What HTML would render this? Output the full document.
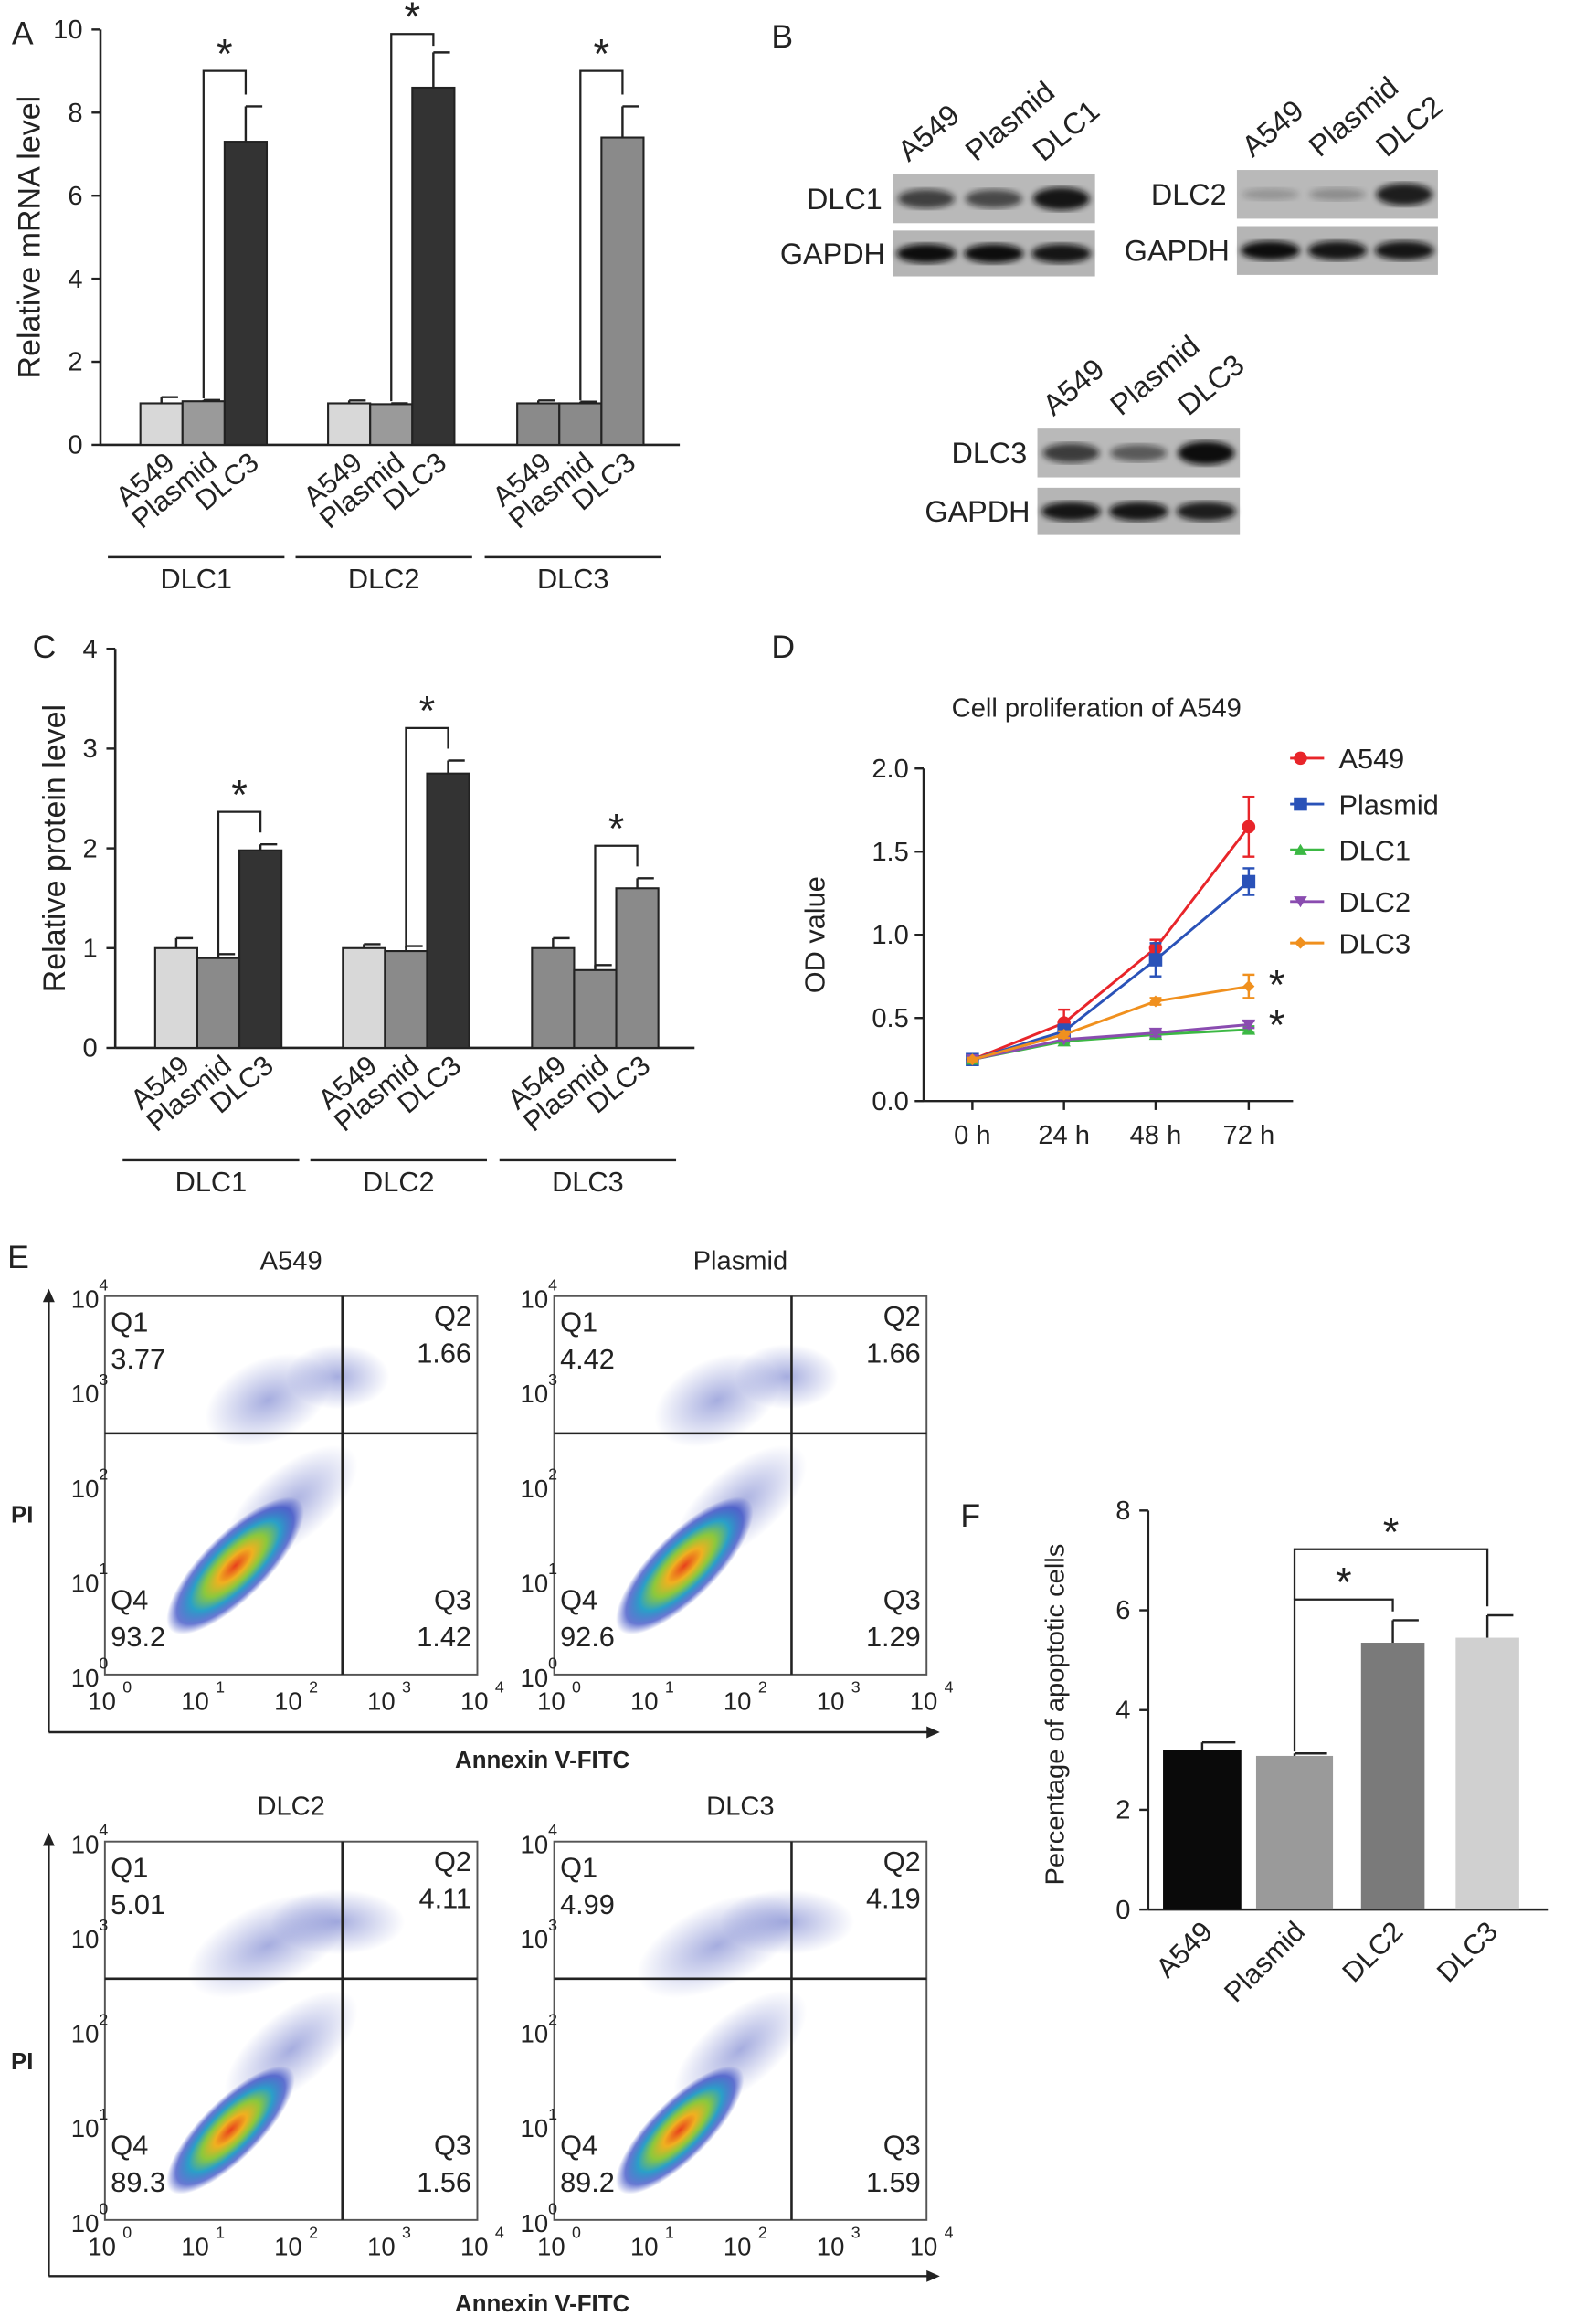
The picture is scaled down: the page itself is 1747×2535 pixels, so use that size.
<!DOCTYPE html>
<html><head><meta charset="utf-8"><style>
html,body{margin:0;padding:0;background:#fff;}
svg{display:block;font-family:"Liberation Sans",Arial,sans-serif;}
</style></head><body>
<svg id="fig" width="1747" height="2535" viewBox="0 0 1080 1567" preserveAspectRatio="none" xmlns="http://www.w3.org/2000/svg">
<defs>
<filter id="blur2"><feGaussianBlur stdDeviation="2.2"/></filter>
<radialGradient id="dens" cx="50%" cy="50%" r="50%">
<stop offset="0" stop-color="#e8401c"/><stop offset="0.25" stop-color="#f0b020"/><stop offset="0.45" stop-color="#8cc83c"/><stop offset="0.65" stop-color="#2aa0c8"/><stop offset="0.85" stop-color="#2840c0" stop-opacity="0.7"/><stop offset="1" stop-color="#3040c0" stop-opacity="0"/>
</radialGradient>
<radialGradient id="sparse" cx="50%" cy="50%" r="50%">
<stop offset="0" stop-color="#3848b8" stop-opacity="0.45"/><stop offset="1" stop-color="#3848b8" stop-opacity="0"/>
</radialGradient>
</defs>
<g id="root"></g>
</svg>
<script>
// ---------- data ----------
const barGroups = ['DLC1','DLC2','DLC3'];
const barCats = ['A549','Plasmid','DLC3'];
const mrnaVals = [[1.0,1.05,7.3],[1.0,0.98,8.6],[1.0,1.0,7.4]];
const mrnaErr = [[0.15,0.03,0.85],[0.07,0.02,0.85],[0.07,0.04,0.75]];
const mrnaTicks = [0,2,4,6,8,10];
const protVals = [[1.0,0.9,1.98],[1.0,0.97,2.75],[1.0,0.78,1.6]];
const protErr = [[0.1,0.04,0.06],[0.04,0.05,0.13],[0.1,0.05,0.1]];
const protTicks = [0,1,2,3,4];
const timeLabels = ['0 h','24 h','48 h','72 h'];
const odSeriesNames = ['A549','Plasmid','DLC1','DLC2','DLC3'];
const odA549 = [0.25,0.47,0.92,1.65];
const odPlasmid = [0.25,0.42,0.85,1.32];
const odDLC1 = [0.25,0.36,0.40,0.43];
const odDLC2 = [0.25,0.37,0.41,0.46];
const odDLC3 = [0.25,0.40,0.60,0.69];
const odErrA549 = [0.02,0.08,0.05,0.18];
const odErrPlasmid = [0.02,0.04,0.1,0.08];
const odErrDLC1 = [0.01,0.01,0.02,0.02];
const odErrDLC2 = [0.01,0.01,0.02,0.02];
const odErrDLC3 = [0.01,0.02,0.02,0.07];
const odTicks = [0,0.5,1.0,1.5,2.0];
const flowNames = ['A549','Plasmid','DLC2','DLC3'];
const flowQ1 = ['3.77','4.42','5.01','4.99'];
const flowQ2 = ['1.66','1.66','4.11','4.19'];
const flowQ3 = ['1.42','1.29','1.56','1.59'];
const flowQ4 = ['93.2','92.6','89.3','89.2'];
const apopCats = ['A549','Plasmid','DLC2','DLC3'];
const apopVals = [3.2,3.08,5.35,5.45];
const apopErr = [0.15,0.05,0.45,0.45];
const apopTicks = [0,2,4,6,8];

// ---------- helpers ----------
const NS='http://www.w3.org/2000/svg';
const root=document.getElementById('root');
function mk(tag,attrs,parent,text){const e=document.createElementNS(NS,tag);for(const k in attrs)e.setAttribute(k,attrs[k]);if(text!==undefined)e.textContent=text;(parent||root).appendChild(e);return e;}
function line(x1,y1,x2,y2,c,w,p){return mk('line',{x1,y1,x2,y2,stroke:c||'#222','stroke-width':w||1.5},p);}
function txt(x,y,s,size,anchor,p,extra){const a={x,y,'font-size':size,'text-anchor':anchor||'middle',fill:'#222'};if(extra)Object.assign(a,extra);return mk('text',a,p,s);}

// ---------- panel letters ----------
[['A',8,30],['B',522,32],['C',22,445],['D',522,445],['E',5,858],['F',650,1033]].forEach(l=>{
  const t=txt(l[1],l[2],l[0],22,'start');
  
  
});

// ---------- grouped bar chart ----------
function barChart(name,opt,vals,errs,ticks){
  const g=mk('g',{});
  
  
  const y=v=>opt.y0-(v-ticks[0])/(ticks[ticks.length-1]-ticks[0])*(opt.y0-opt.y1);
  line(opt.ax,opt.y1,opt.ax,opt.y0,'#222',1.6,g);
  line(opt.ax,opt.y0,opt.xend,opt.y0,'#222',1.6,g);
  ticks.forEach(t=>{line(opt.ax-6,y(t),opt.ax,y(t),'#222',1.5,g);
    const tl=txt(opt.ax-12,y(t)+6,String(t),18,'end',g);
    
    });
  const yt=txt(0,0,opt.ytitle,21,'middle',g,{transform:`translate(${opt.ytx},${(opt.y0+opt.y1)/2}) rotate(-90)`});
  
  
  barGroups.forEach((gn,gi)=>{
    const gx=opt.gx[gi];
    vals[gi].forEach((v,ci)=>{
      const x=gx+ci*opt.bw;
      const b=mk('rect',{x,y:y(v),width:opt.bw,height:opt.y0-y(v),fill:opt.colors[gi][ci],stroke:'#222','stroke-width':1.3},g);
      
      
      const ey=y(v+errs[gi][ci]);
      line(x+opt.bw/2,y(v),x+opt.bw/2,ey,'#222',1.5,g);
      line(x+opt.bw/2,ey,x+opt.bw-3,ey,'#222',1.5,g);
      const lab=txt(0,0,barCats[ci],19,'end',g,{transform:`translate(${x+opt.bw/2+10},${opt.y0+14}) rotate(-40)`});
      
      
    });
    const xp=gx+1.5*opt.bw, xd=gx+2.5*opt.bw;
    const errTop=y(vals[gi][2]+errs[gi][2]);
    const top=Math.max(errTop-opt.brk, opt.minTop);
    mk('polyline',{points:`${xp},${y(vals[gi][1])-2} ${xp},${top} ${xd},${top} ${xd},${Math.max(errTop-8,top+8)}`,fill:'none',stroke:'#222','stroke-width':1.4},g);
    const st=txt((xp+xd)/2,top-2,'*',28,'middle',g);
    
    
    line(gx-22,opt.gline,gx+3*opt.bw+12,opt.gline,'#222',1.5,g);
    const gl=txt(gx+1.5*opt.bw-5,opt.gline+21,gn,19,'middle',g);
    
    
  });
}
barChart('mrna-bar-chart',{ax:68,y0:301,y1:20,xend:460,gx:[95,222,350],bw:28.5,ytitle:'Relative mRNA level',ytx:27,gline:377,brk:24,minTop:23,
  colors:[['#d8d8d8','#9a9a9a','#333'],['#d8d8d8','#9a9a9a','#333'],['#8a8a8a','#8a8a8a','#8a8a8a']]},mrnaVals,mrnaErr,mrnaTicks);
barChart('protein-bar-chart',{ax:78,y0:709,y1:439,xend:470,gx:[105,232,360],bw:28.5,ytitle:'Relative protein level',ytx:44,gline:785,brk:22,minTop:440,
  colors:[['#d8d8d8','#8a8a8a','#333'],['#d8d8d8','#8a8a8a','#333'],['#8a8a8a','#8a8a8a','#8a8a8a']]},protVals,protErr,protTicks);

// ---------- western blots ----------
const blots=[
  {name:'dlc1',x:604,w:137,lab:'DLC1',top:118,th:33,gtop:156,gh:31,lanes:[['A549',0.7],['Plasmid',0.65],['DLC1',0.95]],g:[1,1,0.95]},
  {name:'dlc2',x:837,w:136,lab:'DLC2',top:115,th:33,gtop:153,gh:33,lanes:[['A549',0.2],['Plasmid',0.25],['DLC2',0.9]],g:[1,0.95,0.95]},
  {name:'dlc3',x:702,w:137,lab:'DLC3',top:290,th:33,gtop:330,gh:32,lanes:[['A549',0.72],['Plasmid',0.55],['DLC3',1]],g:[0.95,0.95,0.9]}];
blots.forEach(b=>{
  const g=mk('g',{});
  
  
  mk('rect',{x:b.x,y:b.top,width:b.w,height:b.th,fill:'#b9b9b9'},g);
  mk('rect',{x:b.x,y:b.gtop,width:b.w,height:b.gh,fill:'#b5b5b5'},g);
  const lw=b.w/3;
  b.lanes.forEach((ln,i)=>{
    const cx=b.x+lw*(i+0.5);
    mk('ellipse',{cx,cy:b.top+b.th/2,rx:lw*0.42,ry:3+5*ln[1],fill:'#111',opacity:ln[1],filter:'url(#blur2)'},g);
    mk('ellipse',{cx,cy:b.gtop+b.gh/2,rx:lw*0.44,ry:6.5,fill:'#111',opacity:b.g[i],filter:'url(#blur2)'},g);
    const t=txt(0,0,ln[0],20,'start',g,{transform:`translate(${cx-12},${b.top-8}) rotate(-40)`});
    
    
  });
  const l1=txt(b.x-7,b.top+b.th/2+7,b.lab,20,'end',g);
  
  
  const l2=txt(b.x-5,b.gtop+b.gh/2+7,'GAPDH',20,'end',g);
  
  
});

// ---------- line chart D ----------
(function(){
  const g=mk('g',{});
  
  
  const ax=625,y0=745,y1=520,xend=875;
  const X=[658,720,782,845];
  const y=v=>y0-v/2*(y0-y1);
  line(ax,y1,ax,y0,'#222',1.5,g);line(ax,y0,xend,y0,'#222',1.5,g);
  odTicks.forEach(t=>{line(ax-6,y(t),ax,y(t),'#222',1.5,g);const tl=txt(ax-10,y(t)+6,t.toFixed(1),18,'end',g);
    });
  timeLabels.forEach((t,i)=>{line(X[i],y0,X[i],y0+6,'#222',1.5,g);const tl=txt(X[i],y0+29,t,18,'middle',g);
    });
  const ti=txt(742,485,'Cell proliferation of A549',18,'middle',g);
  
  const yt=txt(0,0,'OD value',19,'middle',g,{transform:`translate(558,${(y0+y1)/2}) rotate(-90)`});
  
  const series=[odA549,odPlasmid,odDLC1,odDLC2,odDLC3];
  const errs=[odErrA549,odErrPlasmid,odErrDLC1,odErrDLC2,odErrDLC3];
  const cols=['#e8252a','#2a52b8','#3cb844','#8a4cb0','#f0901e'];
  const marks=['circle','square','tri','tridown','diamond'];
  function marker(kind,cx,cy,c,p){
    if(kind==='circle')return mk('circle',{cx,cy,r:4.5,fill:c},p);
    if(kind==='square')return mk('rect',{x:cx-4.5,y:cy-4.5,width:9,height:9,fill:c},p);
    if(kind==='tri')return mk('polygon',{points:`${cx},${cy-4} ${cx+4.5},${cy+3.5} ${cx-4.5},${cy+3.5}`,fill:c},p);
    if(kind==='tridown')return mk('polygon',{points:`${cx-4.5},${cy-3.5} ${cx+4.5},${cy-3.5} ${cx},${cy+4}`,fill:c},p);
    return mk('polygon',{points:`${cx},${cy-4} ${cx+4},${cy} ${cx},${cy+4} ${cx-4},${cy}`,fill:c},p);
  }
  series.forEach((s,si)=>{
    const sg=mk('g',{},g);
    
    
    mk('polyline',{points:s.map((v,i)=>X[i]+','+y(v)).join(' '),fill:'none',stroke:cols[si],'stroke-width':1.8},sg);
    s.forEach((v,i)=>{
      const e=errs[si][i];
      line(X[i],y(v-e),X[i],y(v+e),cols[si],1.5,sg);
      line(X[i]-4,y(v+e),X[i]+4,y(v+e),cols[si],1.5,sg);
      line(X[i]-4,y(v-e),X[i]+4,y(v-e),cols[si],1.5,sg);
      const m=marker(marks[si],X[i],y(v),cols[si],sg);
      
      
    });
    const ly=[513,544,575,610,638][si];
    const lg=mk('g',{},g);
    
    
    line(873,ly,896,ly,cols[si],1.8,lg);marker(marks[si],880,ly,cols[si],lg);
    txt(906,ly+7,odSeriesNames[si],19,'start',lg);
  });
  const s1=txt(864,676,'*',28,'middle',g);
  const s2=txt(864,703,'*',28,'middle',g);
})();

// ---------- flow cytometry E ----------
const flowBoxes=[{x:71,y:877,name:'A549'},{x:375,y:877,name:'Plasmid'},{x:71,y:1246,name:'DLC2'},{x:375,y:1246,name:'DLC3'}];
const FW=252,FH=256;
flowBoxes.forEach((fb,i)=>{
  const g=mk('g',{});
  
  
  const x0=fb.x,y0=fb.y;
  const lx=v=>x0+v/4*FW, ly=v=>y0+FH-v/4*FH;
  const up=i>=2?1.3:1;
  mk('ellipse',{cx:lx(1.75),cy:ly(2.9),rx:45*up,ry:28,fill:'url(#sparse)',transform:`rotate(-25 ${lx(1.75)} ${ly(2.9)})`},g);
  mk('ellipse',{cx:lx(2.5),cy:ly(3.15),rx:35*up,ry:22,fill:'url(#sparse)'},g);
  mk('ellipse',{cx:lx(2.0),cy:ly(1.8),rx:55,ry:25,fill:'url(#sparse)',transform:`rotate(-40 ${lx(2.0)} ${ly(1.8)})`},g);
  const cx=lx(i>=2?1.35:1.4), cy=ly(i>=2?0.95:1.15);
  mk('ellipse',{cx,cy,rx:i>=2?58:62,ry:i>=2?20:22,fill:'url(#dens)',transform:`rotate(-45 ${cx} ${cy})`},g);
  mk('rect',{x:x0,y:y0,width:FW,height:FH,fill:'none',stroke:'#555','stroke-width':1.2},g);
  const qx=lx(2.55), qy=ly(2.55);
  line(qx,y0,qx,y0+FH,'#222',1.6,g);line(x0,qy,x0+FW,qy,'#222',1.6,g);
  for(let k=0;k<=4;k++){
    const t1=txt(lx(k)-2,y0+FH+24,'10',17,'middle',g);
    txt(lx(k)+12,y0+FH+12,String(k),11,'start',g);
    const t2=txt(x0-4,ly(k)+8,'10',17,'end',g);
    txt(x0-4,ly(k)-4,String(k),11,'start',g);
  }
  const t=txt(x0+FW/2,y0-18,flowNames[i],18,'middle',g);
  [['Q1',flowQ1[i],x0+4,y0+24,'start'],['Q2',flowQ2[i],x0+FW-4,y0+20,'end'],['Q4',flowQ4[i],x0+4,y0+FH-44,'start'],['Q3',flowQ3[i],x0+FW-4,y0+FH-44,'end']].forEach(q=>{
    const qt=txt(q[2],q[3],q[0],19,q[4],g);
    const qv=txt(q[2],q[3]+25,q[1],19,q[4],g);
  });
});
[[1172,872,1190,1030],[1540,1240,1558,1400]].forEach((a,k)=>{
  const g=mk('g',{});
  
  
  line(33,a[0],628,a[0],'#222',1.5,g);mk('polygon',{points:`636,${a[0]} 627,${a[0]-4} 627,${a[0]+4}`,fill:'#222'},g);
  line(33,a[0],33,a[1]+8,'#222',1.5,g);mk('polygon',{points:`33,${a[1]} 29,${a[1]+9} 37,${a[1]+9}`,fill:'#222'},g);
  txt(367,a[2]+6,'Annexin V-FITC',16,'middle',g,{'font-weight':'bold'});
  txt(15,a[3],'PI',16,'middle',g,{'font-weight':'bold'});
});

// ---------- bar chart F ----------
(function(){
  const g=mk('g',{});
  
  
  const ax=777,y0=1292,y1=1022,xend=1048;
  const y=v=>y0-v/8*(y0-y1);
  const bx=[787,850,921,985],bw=[53,52,43,43];
  const cols=['#0a0a0a','#9a9a9a','#7a7a7a','#d0d0d0'];
  line(ax,y1,ax,y0,'#222',1.5,g);line(ax,y0,xend,y0,'#222',1.5,g);
  apopTicks.forEach(t=>{line(ax-6,y(t),ax,y(t),'#222',1.5,g);const tl=txt(ax-12,y(t)+6,String(t),18,'end',g);
    });
  const yt=txt(0,0,'Percentage of apoptotic cells',18,'middle',g,{transform:`translate(720,1160) rotate(-90)`});
  
  apopVals.forEach((v,i)=>{
    const b=mk('rect',{x:bx[i],y:y(v),width:bw[i],height:y0-y(v),fill:cols[i]},g);
    
    
    const c=bx[i]+bw[i]/2,e=y(v+apopErr[i]);
    line(c,y(v),c,e,'#222',1.5,g);line(c,e,c+bw[i]/2-4,e,'#222',1.5,g);
    const l=txt(0,0,apopCats[i],19,'end',g,{transform:`translate(${c+8},${y0+16}) rotate(-45)`});
    
  });
  const pc=bx[1]+bw[1]/2;
  const e2=y(apopVals[2]+apopErr[2]), e3=y(apopVals[3]+apopErr[3]);
  const b1=e2-14, b2=b1-34;
  mk('polyline',{points:`${pc},${y(apopVals[1])-3} ${pc},${b1} ${bx[2]+bw[2]/2},${b1} ${bx[2]+bw[2]/2},${e2-6}`,fill:'none',stroke:'#222','stroke-width':1.4},g);
  mk('polyline',{points:`${pc},${b1} ${pc},${b2} ${bx[3]+bw[3]/2},${b2} ${bx[3]+bw[3]/2},${e3-6}`,fill:'none',stroke:'#222','stroke-width':1.4},g);
  const s1=txt((pc+bx[2]+bw[2]/2)/2,b1-2,'*',28,'middle',g);
  const s2=txt((pc+bx[3]+bw[3]/2)/2,b2-2,'*',28,'middle',g);
})();
</script>
</body></html>
